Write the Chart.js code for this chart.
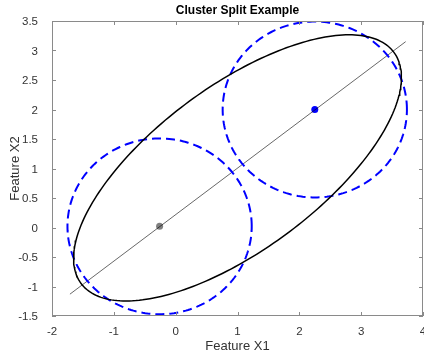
<!DOCTYPE html>
<html>
<head>
<meta charset="utf-8">
<script src="https://cdn.jsdelivr.net/npm/chart.js@4/dist/chart.umd.min.js"></script>
<style>
  html, body { margin: 0; padding: 0; background: #ffffff; overflow: hidden; }
  canvas { display: block; }
</style>
</head>
<body>
<canvas id="c" width="424" height="358"></canvas>
<script>
// ---- data ----
const titleText = 'Cluster Split Example';
const xLabel = 'Feature X1';
const yLabel = 'Feature X2';
const xTicks = [-2, -1, 0, 1, 2, 3, 4];
const yTicks = [-1.5, -1, -0.5, 0, 0.5, 1, 1.5, 2, 2.5, 3, 3.5];

// cluster centres (grey = child 1, blue = child 2)
const centerX = [-0.26, 2.25];
const centerY = [0.02, 2.0];
const circleRadius = [1.49, 1.49];

// parent cluster ellipse
const ellipseCenter = [1.0, 1.01];
const ellipseSemiAxes = [3.2, 1.37];
const ellipseAngleDeg = 38.3;

// split line end points
const splitLineX = [-1.71, 3.72];
const splitLineY = [-1.13, 3.15];

// ---- build curve points from the geometric parameters ----
const N = 240;
function circlePts(cx, cy, r) {
  const pts = [];
  for (let i = 0; i <= N; i++) {
    const t = 2 * Math.PI * i / N;
    pts.push({ x: cx + r * Math.cos(t), y: cy + r * Math.sin(t) });
  }
  return pts;
}
function ellipsePts(c, ax, angDeg) {
  const th = angDeg * Math.PI / 180, ct = Math.cos(th), st = Math.sin(th);
  const pts = [];
  for (let i = 0; i <= N; i++) {
    const t = 2 * Math.PI * i / N;
    const u = ax[0] * Math.cos(t), v = ax[1] * Math.sin(t);
    pts.push({ x: c[0] + u * ct - v * st, y: c[1] + u * st + v * ct });
  }
  return pts;
}

const FONT = '"Liberation Sans", Arial, Helvetica, sans-serif';
const AXIS_COLOR = '#8a8a8a';
const TEXT_COLOR = '#333333';

const frame = {
  id: 'frame',
  afterDraw(chart) {
    const { ctx, chartArea: a, scales } = chart;
    ctx.save();
    ctx.strokeStyle = AXIS_COLOR;
    ctx.lineWidth = 1;
    ctx.strokeRect(Math.round(a.left) + 0.5, Math.round(a.top) + 0.5,
                   Math.round(a.right - a.left) - 1, Math.round(a.bottom - a.top) - 1);
    const tl = 4;
    ctx.beginPath();
    xTicks.forEach(v => {
      const px = Math.round(scales.x.getPixelForValue(v)) + 0.5;
      ctx.moveTo(px, a.bottom); ctx.lineTo(px, a.bottom - tl);
      ctx.moveTo(px, a.top); ctx.lineTo(px, a.top + tl);
    });
    yTicks.forEach(v => {
      const py = Math.round(scales.y.getPixelForValue(v)) + 0.5;
      ctx.moveTo(a.left, py); ctx.lineTo(a.left + tl, py);
      ctx.moveTo(a.right, py); ctx.lineTo(a.right - tl, py);
    });
    ctx.stroke();

    ctx.fillStyle = '#000000';
    ctx.textAlign = 'center';
    ctx.textBaseline = 'middle';
    ctx.font = 'bold 12px ' + FONT;
    ctx.fillText(titleText, (a.left + a.right) / 2, 11);
    ctx.fillStyle = TEXT_COLOR;
    ctx.font = '13px ' + FONT;
    ctx.fillText(xLabel, (a.left + a.right) / 2, 346);
    ctx.translate(15, (a.top + a.bottom) / 2);
    ctx.rotate(-Math.PI / 2);
    ctx.fillText(yLabel, 0, 0);
    ctx.restore();
  }
};

new Chart(document.getElementById('c'), {
  type: 'scatter',
  data: {
    datasets: [
      { data: ellipsePts(ellipseCenter, ellipseSemiAxes, ellipseAngleDeg), showLine: true,
        borderColor: '#000000', borderWidth: 1.5, pointRadius: 0, tension: 0 },
      { data: circlePts(centerX[0], centerY[0], circleRadius[0]), showLine: true,
        borderColor: '#0000ff', borderWidth: 2, borderDash: [9, 5], pointRadius: 0, tension: 0 },
      { data: circlePts(centerX[1], centerY[1], circleRadius[1]), showLine: true,
        borderColor: '#0000ff', borderWidth: 2, borderDash: [9, 5], pointRadius: 0, tension: 0 },
      { data: splitLineX.map((x, i) => ({ x, y: splitLineY[i] })), showLine: true,
        borderColor: '#000000', borderWidth: 0.6, pointRadius: 0 },
      { data: [{ x: centerX[0], y: centerY[0] }], pointRadius: 3.5,
        backgroundColor: '#7f7f7f', borderColor: '#7f7f7f', borderWidth: 0 },
      { data: [{ x: centerX[1], y: centerY[1] }], pointRadius: 3.5,
        backgroundColor: '#0000ff', borderColor: '#0000ff', borderWidth: 0 }
    ]
  },
  options: {
    responsive: false,
    animation: false,
    events: [],
    layout: { autoPadding: false, padding: { top: 21, right: 1, left: 0, bottom: 0 } },
    plugins: { legend: { display: false }, tooltip: { enabled: false }, title: { display: false } },
    scales: {
      x: {
        type: 'linear', min: -2, max: 4,
        afterFit(s) { s.height = 42; s.paddingLeft = 0; s.paddingRight = 0; },
        afterBuildTicks(s) { s.ticks = xTicks.map(v => ({ value: v })); },
        grid: { display: false }, border: { display: false },
        ticks: { color: TEXT_COLOR, font: { family: FONT, size: 11.5 }, padding: 1,
                 maxRotation: 0, autoSkip: false, callback: v => String(v) }
      },
      y: {
        type: 'linear', min: -1.5, max: 3.5,
        afterFit(s) { s.width = 52; s.paddingTop = 0; s.paddingBottom = 0; },
        afterBuildTicks(s) { s.ticks = yTicks.map(v => ({ value: v })); },
        grid: { display: false }, border: { display: false },
        ticks: { color: TEXT_COLOR, font: { family: FONT, size: 11.5 }, padding: 6, labelOffset: 1,
                 autoSkip: false, callback: v => String(v) }
      }
    }
  },
  plugins: [frame]
});
</script>
</body>
</html>
